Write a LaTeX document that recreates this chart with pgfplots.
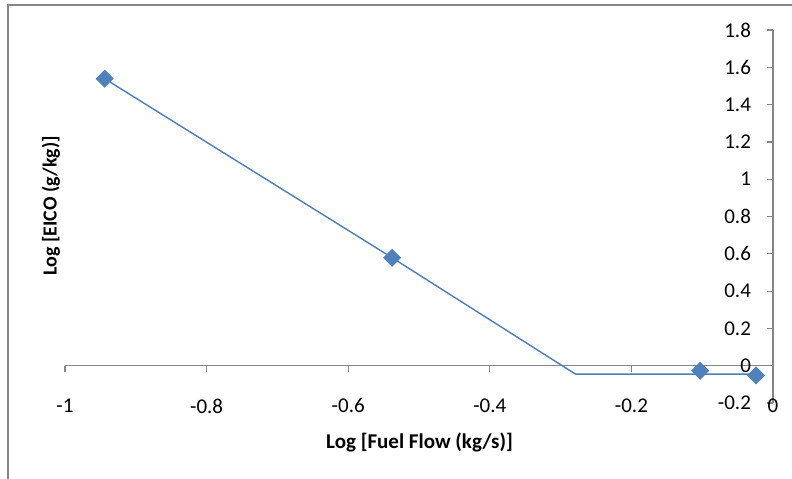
\documentclass[border=0pt]{standalone}
\usepackage{fontspec}
\setmainfont{Carlito}
\usepackage{pgfplots}
\pgfplotsset{compat=1.18}
\definecolor{serblue}{HTML}{4F81BD}
\definecolor{linblue}{HTML}{4A7EBB}
\definecolor{axgray}{HTML}{868686}
\begin{document}
\begin{tikzpicture}[font=\fontsize{10.5}{12}\selectfont]
\path[use as bounding box] (-32.5pt,-37.5pt) rectangle (363.5pt,201.5pt);
\draw[axgray, line width=0.6pt] (-28.5pt,-40pt) -- (-28.5pt,199pt) -- (370pt,199pt);
\begin{axis}[
  at={(0,0)}, anchor=south west,
  scale only axis, width=354pt, height=186.5pt,
  xmin=-1, xmax=0, ymin=-0.2, ymax=1.8,
  axis x line*=middle, axis y line*=right,
  axis line style={-, axgray, line width=0.7pt},
  xtick={-1,-0.8,-0.6,-0.4,-0.2,0},
  ytick={-0.2,0,0.2,0.4,0.6,0.8,1,1.2,1.4,1.6,1.8},
  tick style={axgray, line width=0.6pt},
  major tick length=3pt, tick align=outside,
  y tick style={xshift=-3pt},
  /pgf/number format/assume math mode=true,
  xticklabel style={yshift=-10pt},
  yticklabel style={anchor=east, xshift=-10.5pt},
  xlabel={\bfseries Log [Fuel Flow (kg/s)]},
  xlabel style={at={(axis description cs:0.5007,-0.105)}, anchor=center},
  clip=false,
]
\addplot[linblue, line width=0.7pt] coordinates {
  (-0.944,1.539) (-0.538,0.579) (-0.279,-0.045) (-0.024,-0.045)
};
\addplot[only marks, mark=square*, mark size=3pt,
  mark options={fill=serblue, draw=serblue, rotate=45}] coordinates {
  (-0.944,1.539) (-0.538,0.579) (-0.103,-0.027) (-0.024,-0.052)
};
\node[anchor=north, inner sep=0.333em, yshift=-13pt] at (axis cs:0,0) {0};
\end{axis}
\node[rotate=90, font=\bfseries, inner sep=0pt] at (-7pt,98.5pt) {Log [EICO (g/kg)]};
\end{tikzpicture}
\end{document}
